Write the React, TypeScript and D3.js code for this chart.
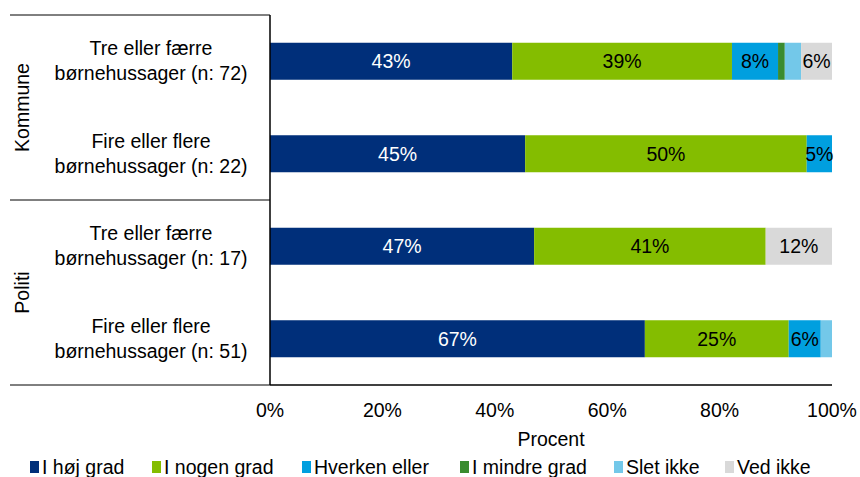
import React from "react";
import * as d3 from "d3";

const series = ["I høj grad", "I nogen grad", "Hverken eller", "I mindre grad", "Slet ikke", "Ved ikke"];
const colors = ["#002F7A", "#84BD00", "#009FDF", "#3A8C2F", "#73C8E9", "#D9D9D9"];
const labelColors = ["#ffffff", "#000000", "#000000", "#000000", "#000000", "#000000"];
const rowLines1 = ["Tre eller færre", "Fire eller flere", "Tre eller færre", "Fire eller flere"];
const rowLines2 = ["børnehussager (n: 72)", "børnehussager (n: 22)", "børnehussager (n: 17)", "børnehussager (n: 51)"];
const groups = ["Kommune", "Politi"];
const values = [
  [43.1, 39.1, 8.2, 1.2, 2.9, 5.5],
  [45.4, 50.1, 4.5, 0, 0, 0],
  [47.0, 41.2, 0, 0, 0, 11.8],
  [66.7, 25.6, 5.7, 0, 2.0, 0],
];
const shown = [
  ["43%", "39%", "8%", "", "", "6%"],
  ["45%", "50%", "5%", "", "", ""],
  ["47%", "41%", "", "", "", "12%"],
  ["67%", "25%", "6%", "", "", ""],
];
const ticks = [0, 20, 40, 60, 80, 100];
const legendX = [30, 152, 302, 460, 614, 725];

export default function App() {
  const W = 860, H = 477;
  const x0 = 270, x1 = 832, yTop = 15, yBot = 385;
  const fs = 19.5;
  const x = d3.scaleLinear().domain([0, 100]).range([x0, x1]);
  const y = d3.scaleBand().domain(d3.range(4).map(String)).range([yTop, yBot]).paddingInner(0.6).paddingOuter(0.3);
  const font = "'Liberation Sans', Arial, sans-serif";
  return (
    <svg width={W} height={H} style={{ position: "absolute", left: 0, top: 0 }} fontFamily={font}>
      <rect width={W} height={H} fill="#fff" />
      {values.map((row, i) => {
        let acc = 0;
        const yy = y(String(i))!;
        const bh = y.bandwidth();
        return (
          <g key={i}>
            {row.map((v, j) => {
              const s = acc;
              acc += v;
              if (v <= 0) return null;
              return (
                <g key={j}>
                  <rect x={x(s)} y={yy} width={x(s + v) - x(s)} height={bh} fill={colors[j]} />
                  {shown[i][j] && (
                    <text x={(x(s) + x(s + v)) / 2} y={yy + bh / 2} dy="0.35em" textAnchor="middle" fontSize={fs} fill={labelColors[j]}>
                      {shown[i][j]}
                    </text>
                  )}
                </g>
              );
            })}
            <text x={151} y={yy + bh / 2 - 13} dy="0.35em" textAnchor="middle" fontSize={fs}>{rowLines1[i]}</text>
            <text x={151} y={yy + bh / 2 + 12} dy="0.35em" textAnchor="middle" fontSize={fs}>{rowLines2[i]}</text>
          </g>
        );
      })}
      {[yTop, (yTop + yBot) / 2, yBot].map((yy, k) => (
        <line key={k} x1={10} x2={x0} y1={yy} y2={yy} stroke="#000" strokeWidth={1} />
      ))}
      <line x1={x0} x2={x0} y1={yTop} y2={yBot} stroke="#000" strokeWidth={1.5} />
      <line x1={x0} x2={x1} y1={yBot} y2={yBot} stroke="#000" strokeWidth={1.5} />
      {groups.map((g, k) => {
        const cy = yTop + (yBot - yTop) / 4 + k * (yBot - yTop) / 2;
        return (
          <text key={g} transform={`translate(22,${cy}) rotate(-90)`} dy="0.35em" textAnchor="middle" fontSize={fs}>{g}</text>
        );
      })}
      {ticks.map((t) => (
        <text key={t} x={x(t)} y={410} dy="0.35em" textAnchor="middle" fontSize={fs}>{t}%</text>
      ))}
      <text x={(x0 + x1) / 2} y={439} dy="0.35em" textAnchor="middle" fontSize={fs}>Procent</text>
      {series.map((s, j) => (
        <g key={s}>
          <rect x={legendX[j]} y={461} width={9} height={12} fill={colors[j]} />
          <text x={legendX[j] + 12} y={467} dy="0.35em" fontSize={fs}>{s}</text>
        </g>
      ))}
    </svg>
  );
}
